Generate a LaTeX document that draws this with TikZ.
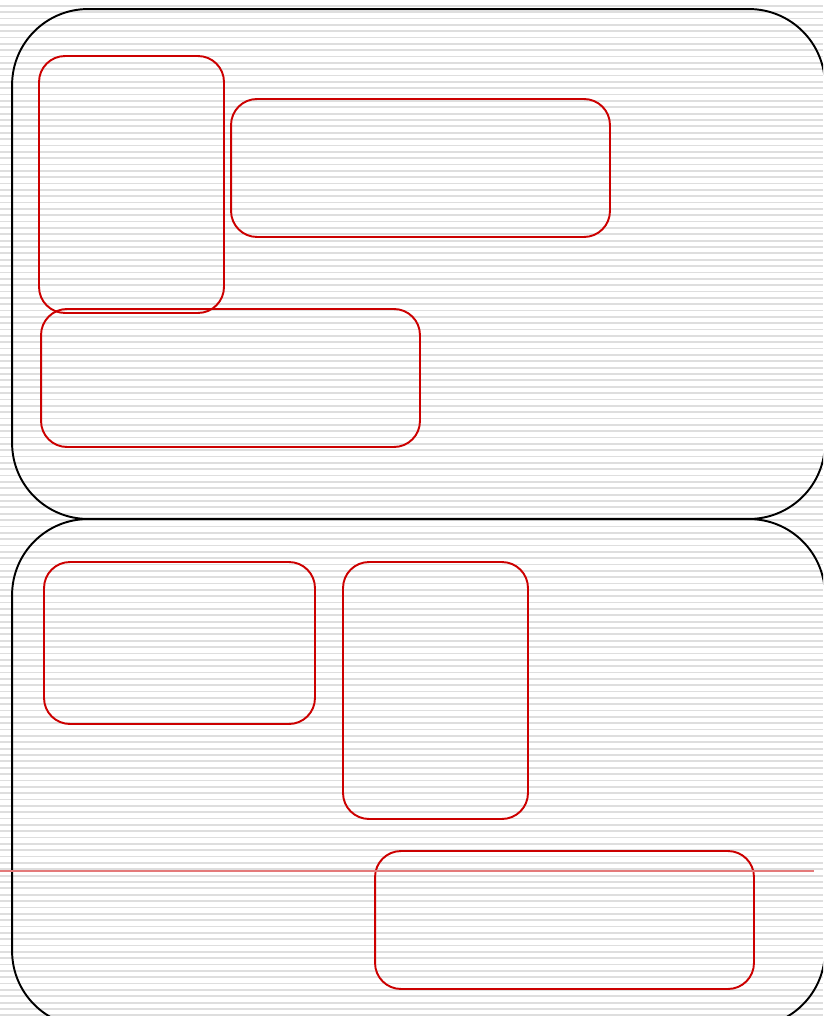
\documentclass[tikz,border=0pt]{standalone}
\usepackage{tikz}
\usetikzlibrary{positioning}

\definecolor{panelred}{RGB}{204,0,0}
\definecolor{cutred}{RGB}{228,122,122}
\definecolor{stripegray}{RGB}{222,222,222}

\begin{document}
\begin{tikzpicture}[
    x=0.02cm, y=-0.02cm,
    panel/.style={
        rectangle,
        rounded corners=1.52cm,
        draw=black,
        line width=1.1pt,
        inner sep=0pt,
        minimum width=16.26cm
    },
    slot/.style={
        rectangle,
        rounded corners=0.52cm,
        draw=panelred,
        line width=1.1pt,
        inner sep=0pt
    },
    tallslot/.style={
        slot,
        minimum width=3.70cm,
        minimum height=5.14cm
    },
    wideslot/.style={
        slot,
        minimum width=7.58cm,
        minimum height=2.76cm
    },
    stripe/.style={
        stripegray,
        line width=1.0pt
    },
    cutline/.style={
        cutred,
        line width=0.9pt
    }
]

% === Page frame ===
\useasboundingbox (0,0) rectangle (823,1016);
\clip (0,0) rectangle (823,1016);

% === Background stripes ===
\foreach \k in {0,...,160} {
    \draw[stripe] (0,5.7+6.35*\k) -- (823,5.7+6.35*\k);
}

% === Upper panel ===
\node[panel, minimum height=10.2cm] (upper) at (418.5,264) {};
\node[tallslot] (upleft) at (131.5,184.5) {};
\node[wideslot] (uptop) at (420.5,168) {};
\node[wideslot] (upbottom) at (230.5,378) {};

% === Lower panel ===
\node[panel, minimum height=10.16cm] (lower) at (418.5,773) {};
\node[slot, minimum width=5.42cm, minimum height=3.24cm] (lowleft) at (179.5,643) {};
\node[tallslot] (lowmid) at (435.5,690.5) {};
\node[wideslot] (lowright) at (564.5,920) {};

% === Cut line ===
\coordinate (cutstart) at (0,871);
\coordinate (cutend) at (814,871);
\draw[cutline] (cutstart) -- (cutend);

\end{tikzpicture}
\end{document}
